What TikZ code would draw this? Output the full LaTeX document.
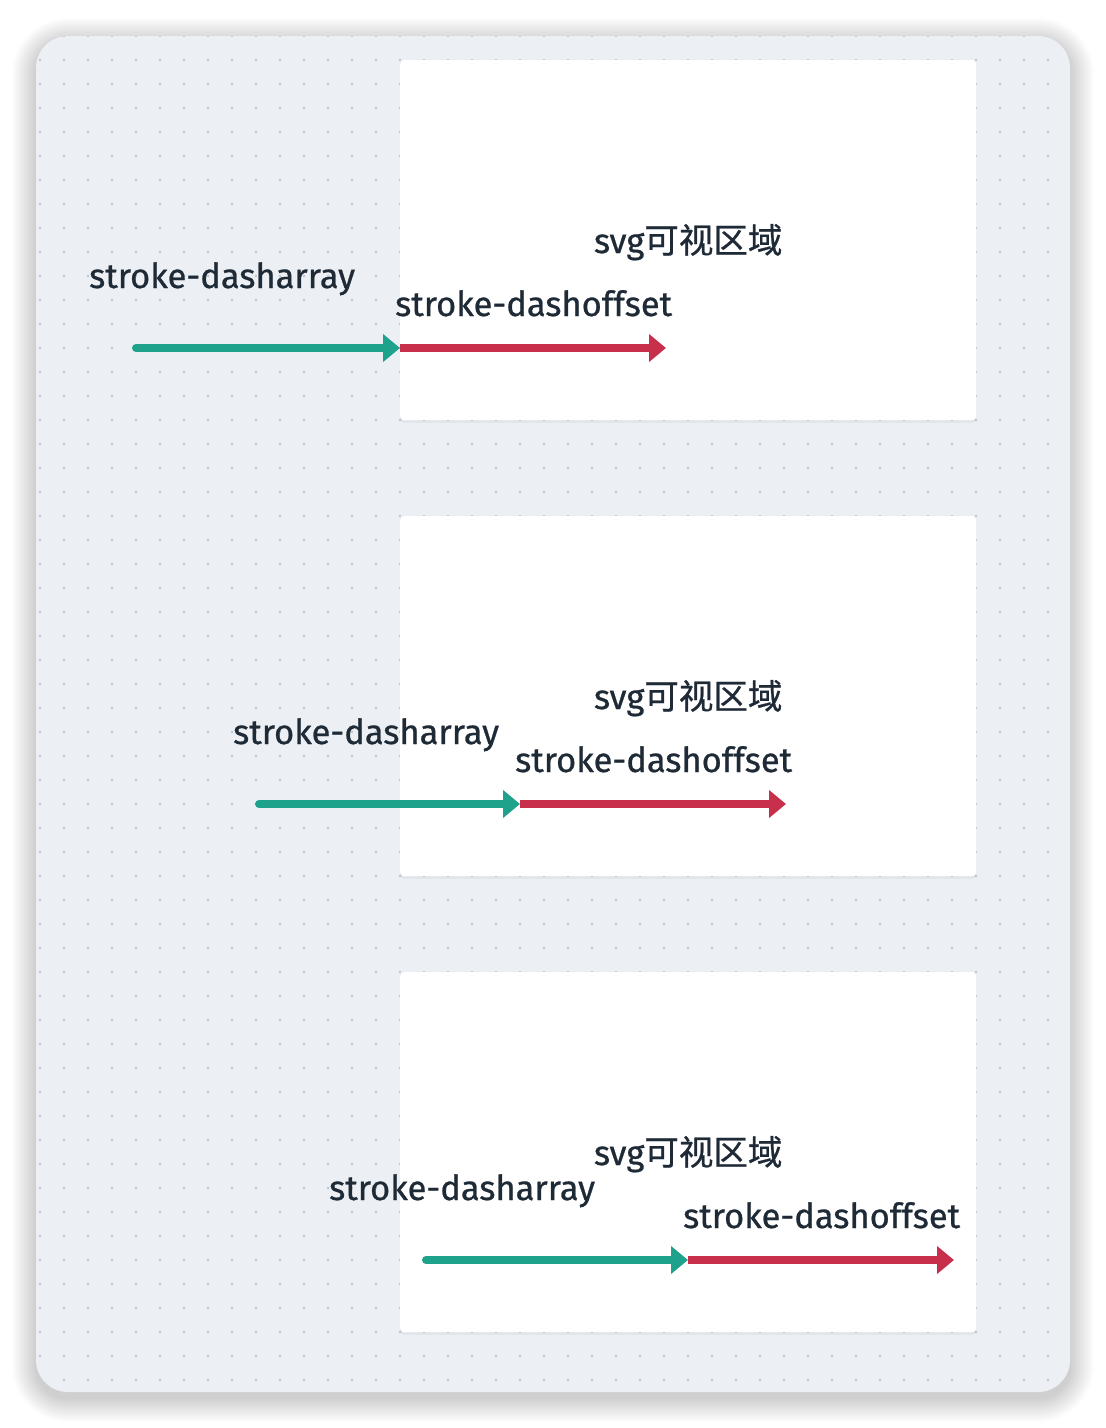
\documentclass[tikz,border=0pt]{standalone}
\usepackage{fontspec}
\setmainfont{Fira Sans}[FakeBold=0.7]
\newfontfamily\cjk{Noto Sans CJK SC}[FakeBold=0.7]
\usepackage{xcolor}
\usepackage{tikz}
\usetikzlibrary{arrows.meta, positioning, shadows}

\definecolor{panelbg}{HTML}{ECF0F4}
\definecolor{griddot}{HTML}{BCC6D3}
\definecolor{ink}{HTML}{1F2A37}
\definecolor{dashteal}{HTML}{1FA28B}
\definecolor{dashred}{HTML}{C72F4A}

\begin{document}
\begin{tikzpicture}[
  x=1pt, y=-1pt,
  view/.style={fill=white, rounded corners=4pt, minimum width=576pt, minimum height=360pt,
               inner sep=0pt, anchor=north west,
               drop shadow={shadow xshift=0pt, shadow yshift=-3pt, opacity=0.04, fill=black}},
  lbl/.style={font=\fontsize{34.5}{40}\selectfont, text=ink, inner sep=0pt},
  arrayarr/.style={dashteal, line width=8pt, line cap=round, -{Triangle[length=17pt,width=27pt]}},
  offsetarr/.style={dashred, line width=8pt, -{Triangle[length=17pt,width=27pt]}}
]
  \useasboundingbox (0,0) rectangle (1106,1428);
  \fill[white] (0,0) rectangle (1106,1428);

  % Panel with soft shadow
  \foreach \i in {1,...,24}
    \fill[black, opacity=0.006, rounded corners=32pt+\i pt]
      (36-\i,36-\i+6) rectangle (1070+\i,1392+\i+6);
  \fill[panelbg, rounded corners=32pt] (36,36) rectangle (1070,1392);

  % Dot grid
  \begin{scope}
    \clip[rounded corners=32pt] (36,36) rectangle (1070,1392);
    \foreach \x in {40,64,...,1048}
      \foreach \y in {36,60,...,1380}
        \fill[griddot] (\x,\y) circle (1.3pt);
  \end{scope}

  % First row
  \node[view] (view_a) at (400,60) {};
  \node[lbl, anchor=base] (title_a) at ([yshift=-193pt]view_a.north) {svg{\cjk 可视区域}};
  \coordinate (start_a) at (136,348);
  \coordinate (mid_a) at (400,348);
  \coordinate (end_a) at (666,348);
  \node[lbl, anchor=base west] (array_a) at (89,288) {stroke-dasharray};
  \node[lbl, anchor=base west] (offset_a) at ([shift={(-5,-32)}]mid_a) {stroke-dashoffset};
  \draw[arrayarr] (start_a) -- (mid_a);
  \draw[offsetarr] (mid_a) -- (end_a);

  % Second row
  \node[view] (view_b) at (400,516) {};
  \node[lbl, anchor=base] (title_b) at ([yshift=-193pt]view_b.north) {svg{\cjk 可视区域}};
  \coordinate (start_b) at (259,804);
  \coordinate (mid_b) at (520,804);
  \coordinate (end_b) at (786,804);
  \node[lbl, anchor=base west] (array_b) at (233,744) {stroke-dasharray};
  \node[lbl, anchor=base west] (offset_b) at ([shift={(-5,-32)}]mid_b) {stroke-dashoffset};
  \draw[arrayarr] (start_b) -- (mid_b);
  \draw[offsetarr] (mid_b) -- (end_b);

  % Third row
  \node[view] (view_c) at (400,972) {};
  \node[lbl, anchor=base] (title_c) at ([yshift=-193pt]view_c.north) {svg{\cjk 可视区域}};
  \coordinate (start_c) at (426,1260);
  \coordinate (mid_c) at (688,1260);
  \coordinate (end_c) at (954,1260);
  \node[lbl, anchor=base west] (array_c) at (329,1200) {stroke-dasharray};
  \node[lbl, anchor=base west] (offset_c) at ([shift={(-5,-32)}]mid_c) {stroke-dashoffset};
  \draw[arrayarr] (start_c) -- (mid_c);
  \draw[offsetarr] (mid_c) -- (end_c);
\end{tikzpicture}
\end{document}
